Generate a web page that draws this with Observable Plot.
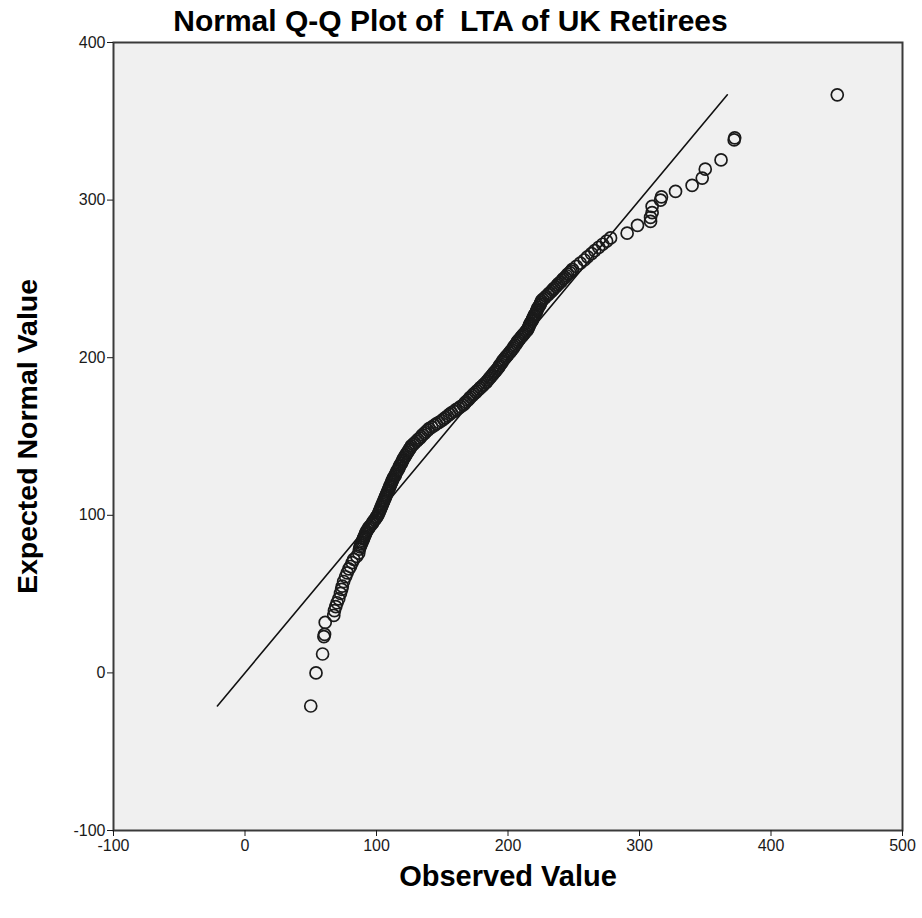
<!DOCTYPE html>
<html>
<head>
<meta charset="utf-8">
<script src="https://cdn.jsdelivr.net/npm/d3@7"></script>
<script src="https://cdn.jsdelivr.net/npm/@observablehq/plot@0.6"></script>
<style>
  html, body { margin: 0; padding: 0; background: #ffffff; }
  #chart svg { display: block; }
</style>
</head>
<body>
<div id="chart"></div>
<script>
// Normal Q-Q plot: sorted observed LTA values against their expected normal values.
const observed = [
  // lower tail
  50, 54, 59, 60, 60.5, 61, 67.5, 68, 69, 70, 71.3, 72.6, 73.5, 74, 75, 76.5, 77.7, 79, 80.2, 81.5, 82.7, 85, 86.5, 87,
  // body
  87.5, 88, 88.5, 89, 89.5, 90, 90.5, 91, 91.5, 92,
  92.5, 93.5, 94, 95, 96, 97, 97.5, 98.5, 99.5, 100,
  101, 101.5, 102, 102.5, 103, 103.5, 104, 104.5, 105, 105.5,
  106, 106.5, 107, 107.5, 108, 108.5, 109, 109.5, 110, 110.5, 111, 111.5,
  112, 112.5, 113, 114, 114.5, 115, 115.5, 116.5, 117, 117.5, 118, 119, 119.5,
  120, 120.5, 121.5, 122, 123, 123.5, 124.5, 125, 126,
  126.5, 128, 129, 130.5, 131.5, 133,
  134, 135, 136.5, 137.5, 139,
  140, 142, 144, 145.5, 147.5,
  149.5, 151, 152.5, 154, 155.5,
  157, 159, 160.5, 162.5, 164,
  166, 167, 168, 169.5, 170.5,
  171.5, 173, 174, 175.5, 176.5,
  178, 179, 180.5, 181.5, 183,
  184, 185, 186, 187, 188, 189, 190,
  191, 192, 193, 193.5, 194.5, 195.5, 196,
  197, 198, 199, 200, 201, 202,
  203, 204, 204.5, 205.5, 206.5, 207,
  208, 209, 210, 211, 212, 213, 214,
  215, 215.5, 216, 216.5, 217, 218,
  218.5, 219, 219.5, 220, 221, 221.5,
  222, 222.5, 223, 224, 224.5, 225, 225.5,
  226.5, 228, 229, 230.5, 231.5, 233,
  234, 235, 236.5, 237.5, 238.5, 240,
  241, 242, 243.5, 244.5, 245.5, 247, 248,
  249, 252, 255, 258, 260.5, 263.5, 266, 269, 272, 275, 278,
  // upper tail
  290.6, 298.5, 308.4, 308.4, 309.6, 309.6, 316, 316.7, 327.4, 340, 347.7, 350, 362, 372, 372.4, 450.4
];
const expected = [
  // lower tail
  -21, 0, 12, 23, 24.5, 32, 36.5, 39.5, 42, 44.5, 47, 50.5, 53, 55, 58, 61, 63.5, 66, 67.5, 70, 72, 74, 76, 78.5,
  // body
  80, 81, 82, 83, 84, 85, 86, 87, 88, 89,
  90, 91, 92, 93, 94, 95, 96, 97, 98, 99,
  100, 101, 102, 103, 104, 105, 106, 107, 108, 109,
  110, 111, 112, 113, 114, 115, 116, 117, 118, 119, 120, 121,
  122, 123, 124, 125, 126, 127, 128, 129, 130, 131, 132, 133, 134,
  135, 136, 137, 138, 139, 140, 141, 142, 143,
  144, 145, 146, 147, 148, 149,
  150, 151, 152, 153, 154,
  155, 156, 157, 158, 159,
  160, 161, 162, 163, 164,
  165, 166, 167, 168, 169,
  170, 171, 172, 173, 174,
  175, 176, 177, 178, 179,
  180, 181, 182, 183, 184,
  185, 186, 187, 188, 189, 190, 191,
  192, 193, 194, 195, 196, 197, 198,
  199, 200, 201, 202, 203, 204,
  205, 206, 207, 208, 209, 210,
  211, 212, 213, 214, 215, 216, 217,
  218, 219, 220, 221, 222, 223,
  224, 225, 226, 227, 228, 229,
  230, 231, 232, 233, 234, 235, 236,
  237, 238, 239, 240, 241, 242,
  243, 244, 245, 246, 247, 248,
  249, 250, 251, 252, 253, 254, 255,
  256, 258, 260, 262, 264, 266, 268, 270, 272, 274, 276,
  // upper tail
  279, 284, 286.5, 289, 292, 296, 300, 302, 305.5, 309.3, 314, 319.6, 325.5, 338.2, 339.5, 366.8
];
const xTicks = [-100, 0, 100, 200, 300, 400, 500];
const yTicks = [-100, 0, 100, 200, 300, 400];

const points = observed.map((o, i) => ({observed: o, expected: expected[i]}));
// Reference line y = x spanning the range of expected values
const lineEnds = d3.extent(expected);

const font = "'Liberation Sans', Arial, sans-serif";

const chart = Plot.plot({
  width: 922,
  height: 918,
  marginLeft: 113,
  marginRight: 20,
  marginTop: 42,
  marginBottom: 88,
  style: {fontFamily: font, fontSize: "16px", color: "#1a1a1a", background: "#ffffff"},
  x: {domain: [-100, 500]},
  y: {domain: [-100, 400]},
  marks: [
    Plot.frame({fill: "#f0f0f0", stroke: "none"}),
    Plot.line(lineEnds, {x: d => d, y: d => d, stroke: "#111", strokeWidth: 1.6}),
    Plot.dot(points, {x: "observed", y: "expected", r: 6, stroke: "#1a1a1a", strokeWidth: 1.7, fill: "none"}),
    Plot.frame({stroke: "#3a3a3a", strokeWidth: 2}),
    Plot.axisX({ticks: xTicks, tickSize: 6, tickPadding: 3, label: null, fontSize: 16, tickFormat: d => String(d)}),
    Plot.axisY({ticks: yTicks, tickSize: 6, tickPadding: 2, label: null, fontSize: 16, tickFormat: d => String(d)}),
    Plot.text(["Normal Q-Q Plot of  LTA of UK Retirees"], {
      frameAnchor: "top-left", dx: 337, dy: -21, textAnchor: "middle", lineAnchor: "middle",
      text: d => d, fontSize: 30, fontWeight: "bold", fill: "#000"
    }),
    Plot.text(["Observed Value"], {
      frameAnchor: "bottom", dy: 46, lineAnchor: "middle",
      text: d => d, fontSize: 29, fontWeight: "bold", fill: "#000"
    }),
    Plot.text(["Expected Normal Value"], {
      frameAnchor: "left", dx: -86, rotate: -90, textAnchor: "middle", lineAnchor: "middle",
      text: d => d, fontSize: 28.5, fontWeight: "bold", fill: "#000"
    })
  ]
});

document.getElementById("chart").append(chart);
</script>
</body>
</html>
